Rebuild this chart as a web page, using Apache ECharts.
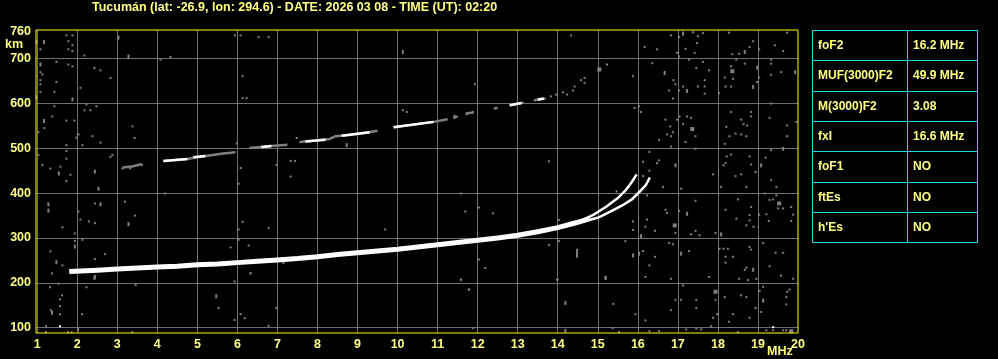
<!DOCTYPE html>
<html><head><meta charset="utf-8">
<script src="https://cdn.jsdelivr.net/npm/echarts@6/dist/echarts.min.js"></script>
<style>html,body{margin:0;padding:0;background:#000;}#c{width:998px;height:359px;}</style>
</head><body><div id="c"></div>
<script>
const titleText = 'Tucumán (lat: -26.9, lon: 294.6) - DATE: 2026 03 08 - TIME (UT): 02:20';
const xTickLabels = [1,2,3,4,5,6,7,8,9,10,11,12,13,14,15,16,17,18,19,20];
const xGridLines = [1,2,3,4,5,6,7,8,9,10,11,12,13,14,15,16,17,18,19];
const yTickLabels = [100,200,300,400,500,600,700,760];
const yGridLines = [100,200,300,400,500,600,700];
const tableLabels = ['foF2','MUF(3000)F2','M(3000)F2','fxI','foF1','ftEs',"h'Es"];
const tableValues = ['16.2 MHz','49.9 MHz','3.08','16.6 MHz','NO','NO','NO'];

// main F-layer trace (frequency MHz, virtual height km)
const lowerTrace = [[1.8,225],[2.5,228],[3.0,231],[3.5,233],[4.0,235],[4.5,237],[5.0,240],[5.5,242],[6.0,245],[6.5,248],[7.0,251],[7.5,254],[8.0,258],[8.5,263],[9.0,267],[9.5,271],[10.0,275],[10.5,280],[11.0,285],[11.5,290],[12.0,295],[12.5,300],[13.0,306],[13.5,314],[14.0,323],[14.5,335],[14.8,343]];
const oTrace = [[14.6,339],[14.9,352],[15.2,369],[15.5,389],[15.7,407],[15.85,425],[15.97,442]];
const xTrace = [[14.6,336],[15.0,345],[15.3,358],[15.6,372],[15.85,386],[16.03,402],[16.2,418],[16.3,435]];
// second trace, null marks a gap
const upperGray = [[3.13,457],[3.4,460],[3.61,465],null,[4.15,472],[4.75,476],[5.0,480],[5.3,484],[5.6,488],[5.95,491],null,[6.3,501],[6.7,504],[7.25,508],null,[7.55,514],[8.0,518],[8.3,521],[8.45,527],[8.8,530],[9.2,535],[9.5,539],null,[9.9,547],[10.4,553],[10.9,559],[11.25,565],null,[11.4,569],[11.5,571],null,[11.7,578],[11.9,580],null,[12.4,589],[12.5,590],null,[12.8,596],[13.15,602],null,[13.4,607],[13.7,611]];
const upperWhite = [[4.15,472],[4.75,476],null,[4.9,480],[5.2,483],null,[6.6,503],[6.85,505],null,[7.7,515],[8.2,519],null,[8.6,528],[9.3,536],null,[9.9,547],[10.9,559],null,[12.8,596],[13.1,601],null,[13.5,609],[13.65,611]];

const noiseDots = [
[1.73,752],[1.88,752],[1.78,739],[1.88,730],[1.78,721],[1.88,717],[1.08,721],[2.18,707],[4.08,698],[4.33,704],[5.94,752],[6.08,752],[6.53,748],[6.78,748],[1.48,693],[1.78,687],[1.88,683],[1.08,670],[1.13,665],[1.08,652],[1.08,643],[1.48,648],[1.08,626],[1.43,626],[2.08,635],[2.43,679],[2.58,674],[2.83,657],[6.13,661],[6.13,612],[6.23,612],[1.43,594],[2.23,598],[2.18,585],[2.33,585],[2.48,594],[1.38,571],[1.73,562],[1.93,562],[1.18,545],[1.03,536],[2.03,531],[1.98,524],[2.38,527],[3.38,549],[3.43,523],[7.48,523],
[1.73,507],[2.13,507],[2.58,513],[1.03,485],[1.73,494],[1.73,477],[1.13,463],[1.33,455],[1.58,459],[1.83,441],[1.73,427],[2.83,481],[2.88,485],[3.13,455],[3.32,455],[3.62,463],[4.19,399],[3.19,381],[3.44,350],[2.44,377],[2.03,359],[2.08,341],[2.29,337],[2.44,333],[1.63,324],[1.94,310],[2.13,296],[1.94,293],[1.33,270],[1.63,239],[2.44,253],[2.69,264],[6.08,456],[6.03,421],[6.98,463],[7.33,472],[7.44,472],[7.33,437],[6.13,336],[6.03,319],[6.78,322],[6.28,283],[5.83,279],[7.15,244],[6.33,221],[6.03,296],[5.98,511],
[1.37,221],[3.46,195],[1.32,190],[1.53,198],[2.23,190],[1.62,172],[1.57,163],[1.57,148],[1.34,139],[1.57,130],[2.12,130],[1.22,103],[1.22,90],[1.77,90],[1.86,90],[3.38,90],[6.33,221],[5.93,203],[5.53,144],[6.08,130],[6.18,121],[5.93,117],[6.78,104],[6.97,144],[11.58,207],[11.79,185],[11.88,99],[13.98,207],[15.39,153],[15.37,99],[15.53,90],[15.94,130],
[14.33,752],[15.23,687],[15.88,661],[15.92,590],[11.93,643],[14.58,652],[14.67,657],[14.67,646],[14.42,638],[14.38,629],[14.23,620],[14.13,625],[13.96,620],[13.83,616],[10.13,585],[10.23,581],[11.73,576],[11.88,581],
[11.58,399],[11.69,359],[12.38,355],[12.03,368],[9.69,319],[12.03,252],[12.19,233],[11.58,207],[11.78,185],[13.78,284],[14.03,340],[14.03,293],[14.0,207],[15.47,404],[15.69,293],[15.88,337],[15.88,318],[13.78,471],
[16.83,752],[17.03,748],[17.38,759],[17.63,757],[17.5,750],[17.48,735],[17.19,722],[17.42,713],[16.98,713],[17.03,705],[16.17,726],[16.48,721],[18.28,758],[18.88,739],[18.79,726],[18.53,711],[18.36,710],[19.03,721],[19.42,730],[19.63,717],[19.73,758],
[16.36,690],[16.89,652],[16.94,643],[17.03,629],[16.88,611],[16.78,629],[17.13,638],[17.28,698],[17.46,679],[17.63,693],[17.78,674],[17.67,652],[17.67,638],[17.5,638],[17.67,622],[18.03,623],[18.17,658],[18.33,683],[18.46,698],[18.67,689],[18.19,638],[18.33,638],[18.38,655],[19.03,658],[18.98,648],[19.33,698],[19.33,689],[19.33,664],[19.58,670],[19.33,600],
[16.03,594],[16.08,581],[16.69,564],[16.81,549],[16.98,564],[17.04,571],[17.33,568],[17.23,571],[17.13,554],[17.44,527],[16.88,536],[16.73,531],[16.83,527],[16.53,519],[16.83,504],[17.19,514],[18.33,581],[18.21,548],[18.58,564],[18.64,554],[18.73,551],[18.83,581],[18.83,571],[18.29,527],[18.44,533],[18.58,531],[18.71,527],[18.17,510],[19.29,568],[19.73,551],[19.73,527],[19.96,559],
[16.29,492],[16.53,473],[16.48,467],[16.13,470],[16.29,450],[16.13,438],[16.63,414],[17.08,410],[17.44,499],[17.88,442],[18.08,414],[18.22,482],[18.33,486],[18.19,467],[18.14,462],[18.44,438],[18.58,442],[18.79,482],[18.83,464],[18.94,447],[18.71,414],[19.19,479],[19.33,496],[19.33,429],[19.46,414],
[16.23,395],[16.69,363],[16.73,356],[17.03,360],[17.44,383],[16.23,341],[16.19,325],[16.43,316],[16.94,311],[17.33,308],[17.44,316],[17.54,306],[17.94,311],[18.19,363],[18.46,343],[18.5,386],[18.79,339],[18.83,369],[18.79,351],[18.71,328],[18.89,325],[19.03,352],[19.17,399],[19.29,385],[19.46,395],[19.5,366],[19.63,366],[19.83,369],[19.88,352],[19.83,338],[19.21,353],[19.27,338],[19.38,386],
[16.13,271],[16.29,239],[16.19,213],[16.43,258],[16.78,289],[16.88,286],[17.28,271],[16.83,209],[17.78,213],[18.04,276],[18.14,276],[18.25,276],[18.19,258],[18.38,258],[18.19,245],[18.79,280],[18.83,274],[18.71,234],[18.67,229],[18.53,209],[18.75,206],[18.96,209],[19.13,289],[19.44,267],[19.63,267],[19.29,237],[19.58,216],[19.88,209],
[17.13,194],[16.94,162],[17.08,162],[17.46,162],[17.94,162],[17.46,144],[16.83,139],[16.19,116],[16.53,92],[17.88,122],[17.98,130],[17.83,103],[18.28,113],[18.17,168],[18.38,130],[18.58,172],[18.71,168],[18.79,122],[18.94,144],[19.04,182],[19.13,191],[19.08,135],[19.71,168],[19.79,185],[19.73,180],[19.71,152],[19.21,94],[19.38,94],[19.63,94],[19.71,94],[17.46,98],[17.58,96],[17.21,96],[16.29,92],[18.5,90]
];
const noiseTall = [[1.17,737],[0.99,737],[3.03,747],[3.28,705],[1.08,687],[0.99,614],[1.88,609],[1.17,561],[1.54,444],[2.44,448],[2.53,410],[3.28,331],[2.58,375],[1.28,375],[1.28,361],[1.94,281],[1.48,246],[2.44,213],[8.73,507],[2.43,211],[1.37,133],[2.02,96],[5.47,170],[14.19,155],[14.19,93],[15.2,211],[10.13,715],[11.42,570],[15.19,211],[15.88,261],[17.13,756],[18.67,715],[16.67,668],[17.23,628],[18.98,680],[18.88,637],[19.93,670],[16.94,462],[19.08,462],[19.63,499],[17.23,354],[16.08,304],[18.08,308],[16.03,265],[17.08,265],[18.88,229],[19.13,160]];
const noiseLong = [[14.48,266]];
const noiseBlocks = [[15.04,676],[18.36,672],[17.36,543],[19.53,377],[16.92,328],[17.94,180],[19.83,92]];
const noiseWhite = [[1.57,103],[19.38,101]];

const FONT = '"Liberation Sans", Arial, sans-serif';
const YEL = '#ffff80';
const GRAY = '#808080';

function segments(arr){
  const out=[]; let cur=[];
  arr.forEach(p=>{ if(p===null){ if(cur.length) out.push(cur); cur=[]; } else cur.push(p); });
  if(cur.length) out.push(cur);
  return out;
}
function lineSeries(data, color, width, z){
  return {type:'line', data:data, showSymbol:false, symbol:'none', silent:true, z:z,
    lineStyle:{color:color, width:width, cap:'butt', join:'miter'}, animation:false};
}
function dotSeries(data, size, color){
  return {type:'scatter', data:data, symbol:'rect', symbolSize:size, silent:true, z:2,
    itemStyle:{color:color, opacity:1}, animation:false};
}

const series = [
  dotSeries(noiseDots,[2,2],GRAY),
  dotSeries(noiseTall,[2,4],GRAY),
  dotSeries(noiseLong,[2,9],GRAY),
  dotSeries(noiseBlocks,[4,4],GRAY),
  dotSeries(noiseWhite,[2,2],'#ffffff')
];
segments(upperGray).forEach(s=>series.push(lineSeries(s,GRAY,2.5,3)));
segments(upperWhite).forEach(s=>series.push(lineSeries(s,'#ffffff',2.5,4)));
series.push(lineSeries(lowerTrace,'#ffffff',5,5));
series.push(lineSeries(oTrace,'#ffffff',2.5,5));
series.push(lineSeries(xTrace,'#ffffff',2.5,5));

// table
const graphic = [];
const tX = 812, tY = 30, tW1 = 95, tW2 = 70, rowH = 30.33;
tableLabels.forEach((lab,i)=>{
  const y0 = Math.round(tY + i*rowH) + 0.5;
  const y1 = Math.round(tY + (i+1)*rowH) + 0.5;
  graphic.push({type:'rect', shape:{x:tX+0.5, y:y0, width:tW1, height:y1-y0}, style:{fill:'none', stroke:'#20e0e0', lineWidth:1}, silent:true});
  graphic.push({type:'rect', shape:{x:tX+tW1+0.5, y:y0, width:tW2, height:y1-y0}, style:{fill:'none', stroke:'#20e0e0', lineWidth:1}, silent:true});
  graphic.push({type:'text', x:tX+6, y:(y0+y1)/2, style:{text:lab, fill:YEL, font:'bold 12px '+FONT, verticalAlign:'middle', textVerticalAlign:'middle'}, silent:true});
  graphic.push({type:'text', x:tX+tW1+6, y:(y0+y1)/2, style:{text:tableValues[i], fill:YEL, font:'bold 12px '+FONT, verticalAlign:'middle', textVerticalAlign:'middle'}, silent:true});
});
graphic.push({type:'text', x:5, y:38, style:{text:'km', fill:YEL, font:'bold 12.5px '+FONT}, silent:true});
graphic.push({type:'text', x:767, y:345, style:{text:'MHz', fill:YEL, font:'bold 12.5px '+FONT}, silent:true});

const chart = echarts.init(document.getElementById('c'), null, {renderer:'canvas'});
chart.setOption({
  backgroundColor:'#000000',
  animation:false,
  title:{text:titleText, left:92, top:1, padding:0, textStyle:{color:YEL, fontSize:12.5, fontWeight:'bold', fontFamily:FONT}},
  grid:{left:36, right:200, top:30, bottom:26, show:true, borderColor:'#ffff00', borderWidth:1, backgroundColor:'transparent', z:10},
  xAxis:{type:'value', min:0.97, max:20,
    axisLine:{show:false}, axisTick:{show:false, customValues:xGridLines},
    axisLabel:{customValues:xTickLabels, color:YEL, fontSize:12.5, fontWeight:'bold', fontFamily:FONT, margin:5},
    splitLine:{show:true, lineStyle:{color:'#707070', width:1}}},
  yAxis:{type:'value', min:88, max:764,
    axisLine:{show:false}, axisTick:{show:false, customValues:yGridLines},
    axisLabel:{customValues:yTickLabels, color:YEL, fontSize:12.5, fontWeight:'bold', fontFamily:FONT, margin:5},
    splitLine:{show:true, lineStyle:{color:'#707070', width:1}}},
  series:series,
  graphic:graphic
});
</script></body></html>
